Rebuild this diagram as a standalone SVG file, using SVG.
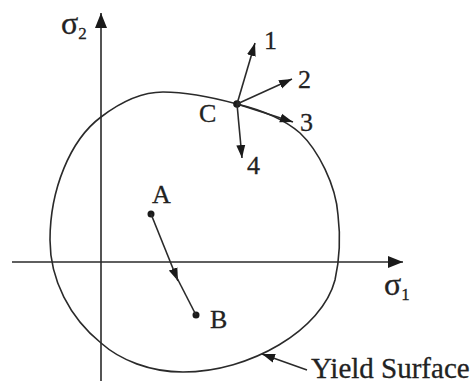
<svg xmlns="http://www.w3.org/2000/svg" width="475" height="383" viewBox="0 0 475 383">
<style>
.ln{stroke:#2a2a2a;stroke-width:1.6;fill:none}
.tx{font-family:"Liberation Serif","Times New Roman",serif;fill:#222;stroke:#222;stroke-width:0.3}
.lb{font-size:26px}
.dot{fill:#1a1a1a}
</style>
<defs>
<marker id="ah" markerUnits="userSpaceOnUse" markerWidth="14" markerHeight="10" refX="13" refY="5" orient="auto">
<path d="M0,0.5 L13,5 L0,9.5 z" fill="#1a1a1a"/>
</marker>
<marker id="axh" markerUnits="userSpaceOnUse" markerWidth="16" markerHeight="12" refX="15" refY="6" orient="auto">
<path d="M0,0 L15,6 L0,12 z" fill="#1a1a1a"/>
</marker>
</defs>
<rect width="475" height="383" fill="#fff"/>
<g id="axes">
<line class="ln" x1="101" y1="381" x2="101" y2="13" marker-end="url(#axh)"/>
<line class="ln" x1="12" y1="262" x2="403" y2="262" marker-end="url(#axh)"/>
<text class="tx" x="61" y="34" font-size="32">σ<tspan font-size="17" dy="5">2</tspan></text>
<text class="tx" x="384" y="295" font-size="32">σ<tspan font-size="17" dy="5">1</tspan></text>
</g>
<g id="yield-surface">
<path class="ln" d="M237,104 C262,110 285,120 300,133 C318,150 336,185 338,215 C341,240 339,262 335,280 C322,330 250,372 183,372 C150,372 120,360 101,343 C70,318 50,280 50,240 C50,190 70,140 101,117 C118,104 140,92 163,92 C190,92 215,98 237,104 Z"/>
<text class="tx" x="311" y="378" font-size="29">Yield Surface</text>
</g>
<g id="point-A">
<circle class="dot" cx="151" cy="214" r="3.5"/>
<text class="tx lb" x="152" y="203">A</text>
</g>
<g id="point-B">
<circle class="dot" cx="196" cy="315" r="3.5"/>
<text class="tx lb" x="210" y="328">B</text>
</g>
<g id="point-C">
<circle class="dot" cx="237" cy="104" r="3.8"/>
<text class="tx lb" x="199" y="122">C</text>
</g>
<g id="labels">
<text class="tx lb" x="264" y="49">1</text>
<text class="tx lb" x="298" y="88">2</text>
<text class="tx lb" x="300" y="131">3</text>
<text class="tx lb" x="247" y="174">4</text>
</g>
<g id="connectors">
<line class="ln" x1="151" y1="214" x2="178" y2="281" marker-end="url(#ah)"/>
<line class="ln" x1="176" y1="276" x2="196" y2="315"/>
<line class="ln" x1="237" y1="104" x2="255" y2="43" marker-end="url(#ah)"/>
<line class="ln" x1="237" y1="104" x2="292" y2="79" marker-end="url(#ah)"/>
<line class="ln" x1="237" y1="104" x2="293" y2="122" marker-end="url(#ah)"/>
<line class="ln" x1="237" y1="104" x2="242" y2="158" marker-end="url(#ah)"/>
<line class="ln" x1="307" y1="370" x2="262" y2="354" marker-end="url(#ah)"/>
</g>
</svg>
